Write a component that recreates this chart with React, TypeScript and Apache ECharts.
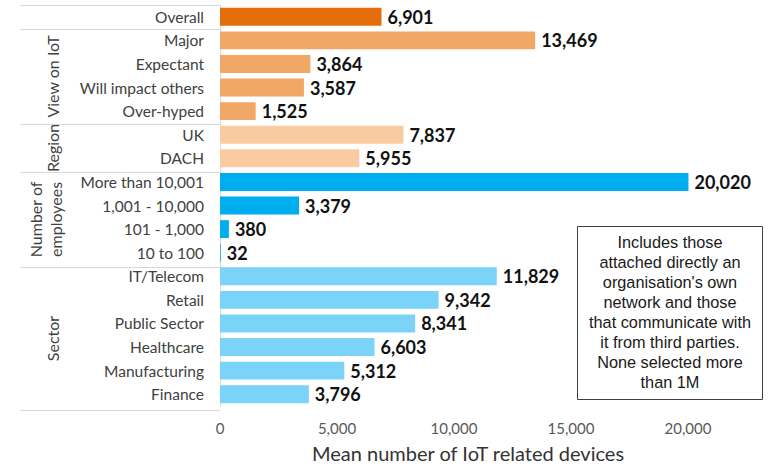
import React, { useEffect, useRef } from "react";
import * as echarts from "echarts";

const categories = [
  "Overall",
  "Major",
  "Expectant",
  "Will impact others",
  "Over-hyped",
  "UK",
  "DACH",
  "More than 10,001",
  "1,001 - 10,000",
  "101 - 1,000",
  "10 to 100",
  "IT/Telecom",
  "Retail",
  "Public Sector",
  "Healthcare",
  "Manufacturing",
  "Finance",
];
const values = [6901, 13469, 3864, 3587, 1525, 7837, 5955, 20020, 3379, 380, 32, 11829, 9342, 8341, 6603, 5312, 3796];
const groupOf = [0, 1, 1, 1, 1, 2, 2, 3, 3, 3, 3, 4, 4, 4, 4, 4, 4];
const groupColors = ["#E66D0B", "#F1A766", "#F8CBA0", "#00AEEF", "#7BD3F7"];
const groupNames = ["", "View on IoT", "Region", "Number of\nemployees", "Sector"];
const xTicks = [0, 5000, 10000, 15000, 20000];
const axisTitle = "Mean number of IoT related devices";
const noteText =
  "Includes those\nattached directly an\norganisation's own\nnetwork and those\nthat communicate with\nit from third parties.\nNone selected more\nthan 1M";

export default function App() {
  const ref = useRef<HTMLDivElement>(null);
  useEffect(() => {
    if (!ref.current) return;
    const chart = echarts.init(ref.current, undefined, { renderer: "svg" });
    const H = 468;
    const gTop = 5;
    const gBottom = 58;
    const gLeft = 220;
    const gRight = 83;
    const plotH = H - gTop - gBottom;
    const rowH = plotH / categories.length;

    const graphics: any[] = [];
    const boundaries: number[] = [0];
    for (let i = 1; i < groupOf.length; i++) {
      if (groupOf[i] !== groupOf[i - 1]) boundaries.push(i);
    }
    boundaries.push(categories.length);
    boundaries.forEach((b) => {
      const y = Math.round(gTop + b * rowH) + 0.5;
      graphics.push({
        type: "line",
        shape: { x1: 20, y1: y, x2: gLeft, y2: y },
        style: { stroke: "#D9D9D9", lineWidth: 1 },
        silent: true,
      });
    });
    for (let k = 0; k < boundaries.length - 1; k++) {
      const s = boundaries[k];
      const e = boundaries[k + 1];
      const g = groupOf[s];
      const name = groupNames[g];
      if (!name) continue;
      const cy = gTop + ((s + e) / 2) * rowH;
      graphics.push({
        type: "text",
        x: name.includes("\n") ? 45 : 52,
        y: cy,
        rotation: Math.PI / 2,
        style: {
          text: name,
          fontFamily: "Lato",
          fontSize: 16,
          lineHeight: 20,
          fill: "#404040",
          align: "center",
          verticalAlign: "middle",
        },
        silent: true,
      });
    }
    graphics.push({
      type: "rect",
      shape: { x: 577.5, y: 226.5, width: 185, height: 173 },
      style: { fill: "#fff", stroke: "#404040", lineWidth: 1 },
      silent: true,
    });
    graphics.push({
      type: "text",
      x: 670,
      y: 232,
      style: {
        text: noteText,
        fontFamily: "Liberation Sans",
        fontSize: 16.3,
        lineHeight: 20,
        fill: "#1a1a1a",
        align: "center",
        verticalAlign: "top",
      },
      silent: true,
    });

    chart.setOption({
      animation: false,
      grid: { top: gTop, bottom: gBottom, left: gLeft, right: gRight, containLabel: false },
      xAxis: {
        type: "value",
        min: 0,
        max: 20000,
        interval: 5000,
        axisLine: { show: false },
        axisTick: { show: false },
        splitLine: { show: false },
        axisLabel: {
          color: "#595959",
          fontFamily: "Lato",
          fontSize: 15,
          margin: 14,
          formatter: (v: number) => (xTicks.includes(v) ? v.toLocaleString("en-US") : ""),
        },
        name: axisTitle,
        nameLocation: "middle",
        nameGap: 37,
        nameTextStyle: { color: "#333", fontFamily: "Lato", fontSize: 20, padding: [0, 0, 0, 28] },
      },
      yAxis: {
        type: "category",
        data: categories,
        inverse: true,
        axisLine: { show: true, lineStyle: { color: "#D9D9D9" } },
        axisTick: { show: false },
        axisLabel: { color: "#404040", fontFamily: "Lato", fontSize: 15.5, margin: 16 },
      },
      series: [
        {
          type: "bar",
          clip: false,
          barCategoryGap: "24%",
          data: values.map((v, i) => ({ value: v, itemStyle: { color: groupColors[groupOf[i]] } })),
          label: {
            show: true,
            position: "right",
            distance: 6,
            color: "#111",
            fontFamily: "Lato",
            fontWeight: "bold",
            fontSize: 18,
            formatter: (p: any) => Number(p.value).toLocaleString("en-US"),
          },
        },
      ],
      graphic: graphics,
    });
    return () => chart.dispose();
  }, []);
  return <div ref={ref} style={{ width: 771, height: 468, position: "absolute", left: 0, top: 0, background: "#fff" }} />;
}
